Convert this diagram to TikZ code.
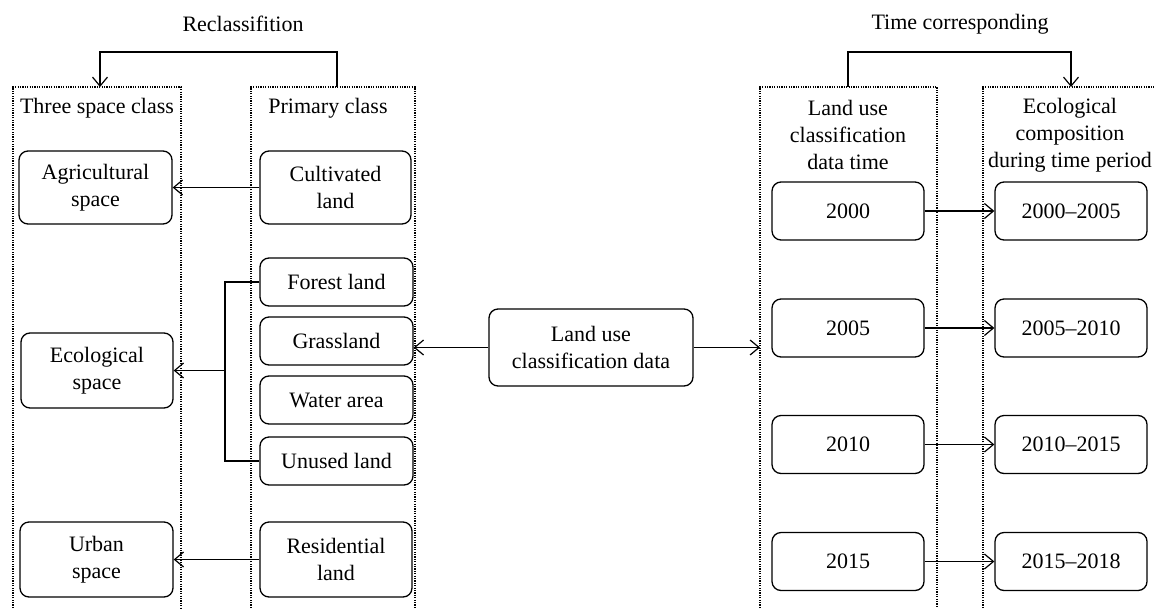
\documentclass[tikz,border=0pt]{standalone}
\usepackage{fontspec}
\setmainfont{Liberation Serif}
\usetikzlibrary{arrows.meta}
\begin{document}
\begin{tikzpicture}[x=1pt,y=-1pt,
  rbox/.style={draw, rounded corners=9pt, line width=1.3pt, align=center, inner sep=0pt},
  lbl/.style={align=center, inner sep=0pt},
  conn/.style={line width=1.3pt, -{Straight Barb[length=9pt,width=15pt,line width=1.2pt]}},
  plain/.style={line width=1.3pt},
  dotbox/.style={line width=1.1pt, dash pattern=on 1.2pt off 1.2pt},
  every node/.style={font=\fontsize{22}{27}\selectfont}]
\useasboundingbox (0,0) rectangle (1155,608);
% dotted column frames
\draw[dotbox] (13,608) -- (13,87) -- (181,87) -- (181,608);
\draw[dotbox] (251,608) -- (251,87) -- (415,87) -- (415,608);
\draw[dotbox] (760,608) -- (760,87) -- (937,87) -- (937,608);
\draw[dotbox] (983,608) -- (983,87) -- (1160,87);
\coordinate (tsTop) at (100,87);
\coordinate (pcTop) at (337,87);
\coordinate (ldTop) at (848,87);
\coordinate (ecTop) at (1071,87);
% titles
\node[lbl] (recl) at (243,24) {Reclassifition};
\node[lbl] (timec) at (960,24) {Time corresponding};
\node[lbl] (h1) at (97,108) {Three space class};
\node[lbl] (h2) at (328,108) {Primary class};
\node[lbl] (h3) at (848,135) {Land use\\classification\\data time};
\node[lbl] (h4) at (1070,135) {Ecological\\composition\\during time period};
% left boxes
\node[rbox, minimum width=153pt, minimum height=73pt] (agri) at (95.5,187.5) {Agricultural\\space};
\node[rbox, minimum width=152pt, minimum height=75pt] (eco) at (97,370.5) {Ecological\\space};
\node[rbox, minimum width=153pt, minimum height=75pt] (urban) at (96.5,559.5) {Urban\\space};
\node[rbox, minimum width=151pt, minimum height=73pt] (cult) at (335.5,187.5) {Cultivated\\land};
\node[rbox, minimum width=153pt, minimum height=48pt] (forest) at (336.5,282) {Forest land};
\node[rbox, minimum width=153pt, minimum height=48pt] (grass) at (336.5,341) {Grassland};
\node[rbox, minimum width=153pt, minimum height=48pt] (water) at (336.5,400) {Water area};
\node[rbox, minimum width=153pt, minimum height=48pt] (unused) at (336.5,461) {Unused land};
\node[rbox, minimum width=152pt, minimum height=75pt] (resid) at (336,559.5) {Residential\\land};
% middle
\node[rbox, minimum width=204pt, minimum height=77pt] (land) at (591,347.5) {Land use\\classification data};
\coordinate (ldLeft) at (760,347.5);
% right boxes
\node[rbox, minimum width=152pt, minimum height=58pt] (y2000) at (848,211) {2000};
\node[rbox, minimum width=152pt, minimum height=58pt] (y2005) at (848,328) {2005};
\node[rbox, minimum width=152pt, minimum height=58pt] (y2010) at (848,444.5) {2010};
\node[rbox, minimum width=152pt, minimum height=58pt] (y2015) at (848,561.5) {2015};
\node[rbox, minimum width=152pt, minimum height=58pt] (p2000) at (1071,211) {2000--2005};
\node[rbox, minimum width=152pt, minimum height=58pt] (p2005) at (1071,328) {2005--2010};
\node[rbox, minimum width=152pt, minimum height=58pt] (p2010) at (1071,444.5) {2010--2015};
\node[rbox, minimum width=152pt, minimum height=58pt] (p2015) at (1071,561.5) {2015--2018};
% connectors
\draw[conn] (pcTop) -- ++(0,-35) -| (tsTop);
\draw[conn] (ldTop) -- ++(0,-35) -| (ecTop);
\draw[conn] (cult.west) -- (agri.east);
\draw[conn] (resid.west) -- (urban.east);
\draw[plain] (forest.west) -- (225,282) -- (225,461) -- (unused.west);
\draw[conn] (225,370.5) -- (eco.east);
\draw[conn] (land.west) -- (grass.east |- land.west);
\draw[conn] (land.east) -- (ldLeft);
\draw[conn] (y2000) -- (p2000);
\draw[conn] (y2005) -- (p2005);
\draw[conn] (y2010) -- (p2010);
\draw[conn] (y2015) -- (p2015);
\end{tikzpicture}
\end{document}
